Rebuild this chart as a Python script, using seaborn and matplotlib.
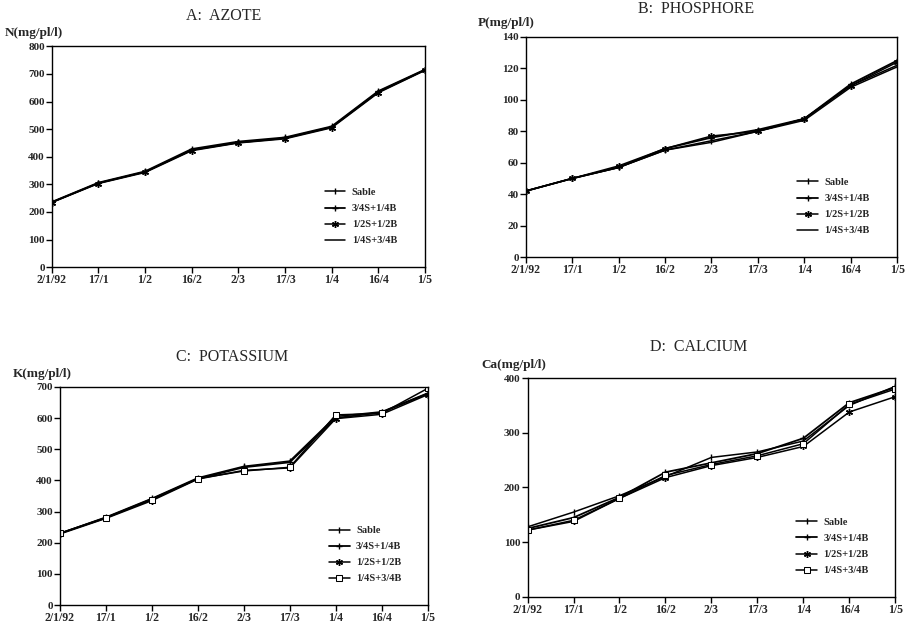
import pandas as pd
import seaborn as sns
import matplotlib.pyplot as plt

dates = ["2/1/92", "17/1", "1/2", "16/2", "2/3", "17/3", "1/4", "16/4", "1/5"]
series_names = ["Sable", "3/4S+1/4B", "1/2S+1/2B", "1/4S+3/4B"]

# A: azote (N)
azote_sable = [235, 305, 345, 425, 452, 468, 508, 636, 715]
azote_34 = [236, 306, 347, 428, 455, 470, 510, 638, 716]
azote_12 = [234, 303, 343, 422, 450, 465, 505, 632, 713]
azote_14 = [235, 304, 345, 424, 451, 467, 507, 634, 714]

# B: phosphore (P)
phos_sable = [42, 50, 57, 68, 74, 80, 88, 109, 122]
phos_34 = [42, 50, 57, 69, 76, 81, 88, 110, 125]
phos_12 = [42, 50, 58, 69, 77, 80, 88, 109, 124]
phos_14 = [42, 50, 57, 68, 73, 80, 87, 108, 121]

# C: potassium (K)
pot_sable = [230, 282, 342, 408, 445, 462, 605, 620, 680]
pot_34 = [230, 280, 340, 405, 442, 458, 600, 618, 678]
pot_12 = [228, 278, 335, 404, 432, 440, 598, 612, 675]
pot_14 = [230, 280, 338, 406, 430, 442, 610, 615, 695]

# D: calcium (Ca)
ca_sable = [128, 155, 185, 220, 255, 265, 285, 350, 385]
ca_34 = [125, 145, 182, 228, 245, 262, 290, 355, 383]
ca_12 = [122, 138, 180, 218, 240, 255, 275, 338, 366]
ca_14 = [122, 140, 180, 222, 242, 258, 280, 352, 380]

panels = [
    ("A:  AZOTE", "N(mg/pl/l)", [azote_sable, azote_34, azote_12, azote_14], 800, 100, False),
    ("B:  PHOSPHORE", "P(mg/pl/l)", [phos_sable, phos_34, phos_12, phos_14], 140, 20, False),
    ("C:  POTASSIUM", "K(mg/pl/l)", [pot_sable, pot_34, pot_12, pot_14], 700, 100, True),
    ("D:  CALCIUM", "Ca(mg/pl/l)", [ca_sable, ca_34, ca_12, ca_14], 400, 100, True),
]

# axes rectangles in figure fractions
rects = [
    [0.057, 0.574, 0.411, 0.352],
    [0.579, 0.590, 0.409, 0.351],
    [0.066, 0.035, 0.405, 0.348],
    [0.581, 0.048, 0.405, 0.349],
]
title_pos = [(0.246, 0.975), (0.767, 0.986), (0.256, 0.430), (0.770, 0.446)]
ylab_pos = [(-0.126, 1.06), (-0.13, 1.065), (-0.128, 1.06), (-0.125, 1.06)]

sns.set_style("white")
plt.rcParams["font.family"] = ["Liberation Serif", "DejaVu Serif"]

fig = plt.figure(figsize=(9.08, 6.27), dpi=100)

markers_plain = ["|", "+", (6, 2, 0), None]
markers_sq = ["|", "+", (6, 2, 0), "s"]

for i, (title, ylab, vals, ymax, ystep, square) in enumerate(panels):
    ax = fig.add_axes(rects[i])
    rows = []
    for name, v in zip(series_names, vals):
        for k, y in enumerate(v):
            rows.append({"x": k, "y": y, "serie": name})
    df = pd.DataFrame(rows)
    mk = markers_sq if square else markers_plain
    for j, name in enumerate(series_names):
        sub = df[df["serie"] == name]
        kw = {}
        if mk[j] == "s":
            kw = dict(markerfacecolor="white", markeredgecolor="black", markersize=4)
        elif mk[j] is not None:
            kw = dict(markersize=5, markeredgewidth=1.0, markeredgecolor="black")
        sns.lineplot(data=sub, x="x", y="y", ax=ax, color="black",
                     linewidth=1.1 if j != 1 else 1.3, marker=mk[j],
                     label=name, **kw)
    ax.set_xlim(0, 8)
    ax.set_ylim(0, ymax)
    ax.set_xticks(range(len(dates)))
    ax.set_xticklabels(dates, fontweight="bold", fontsize=8.5)
    yt = list(range(0, ymax + 1, ystep))
    ax.set_yticks(yt)
    ax.set_yticklabels([str(t) for t in yt], fontweight="bold", fontsize=8)
    ax.tick_params(direction="out", length=4, width=1, color="black", pad=1,
                   bottom=True, left=True)
    for sp in ax.spines.values():
        sp.set_color("black")
        sp.set_linewidth(1.0)
    ax.set_xlabel("")
    ax.set_ylabel("")
    ax.text(ylab_pos[i][0], ylab_pos[i][1], ylab, transform=ax.transAxes,
            ha="left", va="center", fontsize=9.5, fontweight="bold")
    fig.text(title_pos[i][0], title_pos[i][1], title, ha="center", va="center",
             fontsize=11.5)
    ax.legend(loc="lower left", bbox_to_anchor=(0.72, 0.08), frameon=False,
              prop={"size": 7.5, "weight": "bold"}, labelspacing=0.65,
              handlelength=2.0, handletextpad=0.6, borderaxespad=0)

fig.savefig("out.png", dpi=100)
